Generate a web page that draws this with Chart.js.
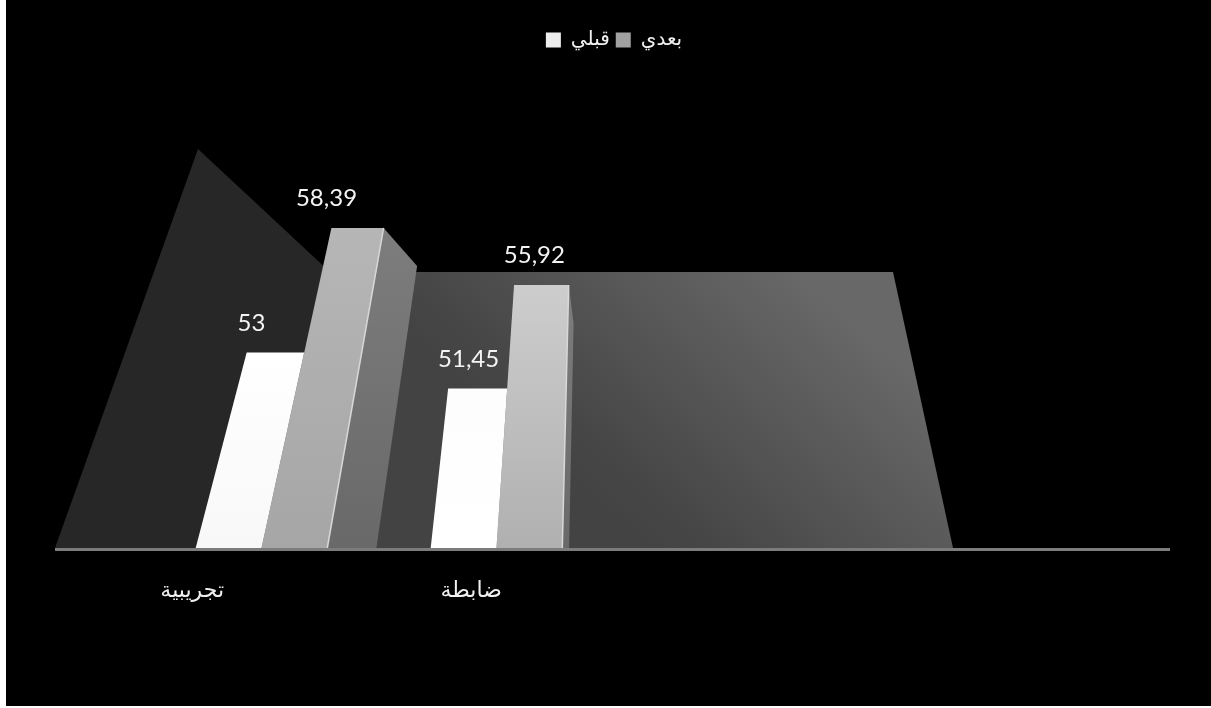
<!DOCTYPE html>
<html>
<head>
<meta charset="utf-8">
<title>قبلي بعدي</title>
<script src="https://cdn.jsdelivr.net/npm/chart.js@4/dist/chart.umd.js"></script>
<style>
  html, body { margin: 0; padding: 0; background: #fff; }
  canvas { display: block; }
</style>
</head>
<body>
<canvas id="chart" width="1211" height="708"></canvas>
<script>
const categories = ['تجريبية', 'ضابطة', '', '']
const before = [53, 51.45, null, null]
const after = [58.39, 55.92, null, null]
const yMin = 44.55
const yMax = 65.65

const numberFont = 'Lato'
const arabicFont = '"DejaVu Sans"'

// everything recedes to one point above the plot
const vanishX = 600
const vanishDepth = 1550
const lean = (x, y, base) => x + (vanishX - x) * (base - y) / vanishDepth

const vgrad = (ctx, top, bottom, c1, c2) => {
  const g = ctx.createLinearGradient(0, top, 0, bottom)
  g.addColorStop(0, c1)
  g.addColorStop(1, c2)
  return g
}

const poly = (ctx, pts, fill) => {
  ctx.beginPath()
  pts.forEach((p, i) => i ? ctx.lineTo(p[0], p[1]) : ctx.moveTo(p[0], p[1]))
  ctx.closePath()
  ctx.fillStyle = fill
  ctx.fill()
}

const faceColors = [
  [['#ffffff', '#f8f8f8'], ['#fdfdfd', '#ffffff']],
  [['#b6b6b6', '#a6a6a6'], ['#cdcdcd', '#b0b0b0']]
]

const perspective = {
  id: 'perspective',
  beforeDraw(chart) {
    const { ctx } = chart
    ctx.save()
    ctx.fillStyle = '#000'
    ctx.fillRect(6, 0, 1205, 706)
    ctx.restore()
  },
  beforeDatasetsDraw(chart) {
    const { ctx } = chart
    const base = chart.scales.y.bottom
    ctx.save()
    // side wall and back wall
    poly(ctx, [[55, base], [198, 149], [360, 300], [360, base]], '#272727')
    const wall = ctx.createLinearGradient(600, 500, 800, 272)
    wall.addColorStop(0, '#434343')
    wall.addColorStop(0.15, '#474747')
    wall.addColorStop(1, '#686868')
    poly(ctx, [[372, base], [413, 272], [893, 272], [953, base]], wall)
    ctx.restore()
  },
  // bars lean toward the vanishing point instead of standing upright
  beforeDatasetDraw(chart, args) {
    const { ctx } = chart
    const i = args.index
    const base = chart.scales.y.bottom
    ctx.save()
    args.meta.data.forEach((bar, j) => {
      if (before[j] === null) return
      const left = bar.x - bar.width / 2
      const right = bar.x + bar.width / 2
      const y = bar.y
      if (i === 1) {
        const backX = right + (vanishX - right) * 0.18
        const backY = y + 38
        poly(ctx, [
          [lean(right, y, base), y],
          [lean(backX, backY, base), backY],
          [backX, base],
          [right, base]
        ], vgrad(ctx, y, base, '#7d7d7d', '#696969'))
      }
      const colors = faceColors[i][j]
      poly(ctx, [
        [left, base],
        [lean(left, y, base), y],
        [lean(right, y, base), y],
        [right, base]
      ], vgrad(ctx, y, base, colors[0], colors[1]))
      if (i === 1) {
        ctx.beginPath()
        ctx.moveTo(right, base)
        ctx.lineTo(lean(right, y, base), y)
        ctx.strokeStyle = '#d8d8d8'
        ctx.lineWidth = 1.5
        ctx.stroke()
      }
    })
    ctx.restore()
    return false
  },
  afterDatasetsDraw(chart) {
    const { ctx } = chart
    const base = chart.scales.y.bottom
    ctx.save()
    // floor line
    ctx.fillStyle = '#7c7c7c'
    ctx.fillRect(55, base, 1115, 3)

    // value labels
    const nudge = [[-24, -9], [-31, -7]]
    ctx.fillStyle = '#f4f4f4'
    ctx.font = '24px ' + numberFont
    ctx.textAlign = 'center'
    ctx.textBaseline = 'middle'
    chart.data.datasets.forEach((ds, i) => {
      chart.getDatasetMeta(i).data.forEach((bar, j) => {
        if (ds.data[j] === null) return
        const x = lean(bar.x, bar.y, base) + nudge[i][j]
        ctx.fillText(String(ds.data[j]).replace('.', ','), x, bar.y - 29.5)
      })
    })

    // category labels sit forward of the floor, so they spread out from the vanishing point
    ctx.font = '22px ' + arabicFont
    ctx.fillStyle = '#f0f0f0'
    categories.forEach((label, j) => {
      if (!label) return
      const cx = chart.scales.x.getPixelForValue(j)
      ctx.fillText(label, cx + (cx - vanishX) * 0.187 - 6, 591)
    })
    ctx.restore()
  }
}

new Chart(document.getElementById('chart'), {
  type: 'bar',
  data: {
    labels: categories,
    datasets: [
      { label: 'قبلي', data: before, backgroundColor: '#eeeeee' },
      { label: 'بعدي', data: after, backgroundColor: '#a2a2a2' }
    ]
  },
  options: {
    responsive: false,
    animation: false,
    layout: { padding: { left: 144, right: 127, top: 24, bottom: 160 } },
    datasets: { bar: { categoryPercentage: 0.56, barPercentage: 1, base: yMin } },
    scales: {
      x: { display: false },
      y: { display: false, min: yMin, max: yMax }
    },
    plugins: {
      tooltip: { enabled: false },
      legend: {
        position: 'top',
        labels: {
          color: '#f0f0f0',
          boxWidth: 15,
          boxHeight: 15,
          padding: 6,
          font: { family: arabicFont, size: 20 }
        }
      }
    }
  },
  plugins: [perspective]
})
</script>
</body>
</html>
